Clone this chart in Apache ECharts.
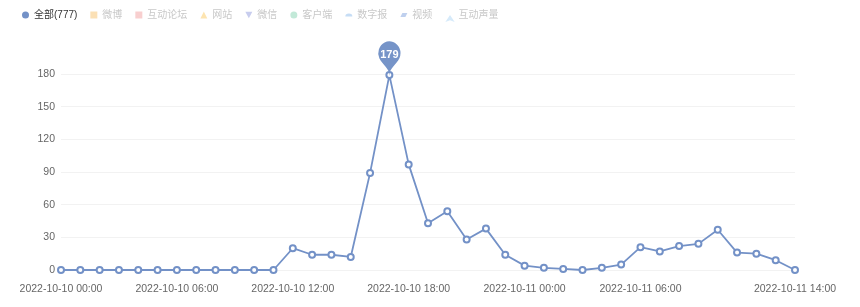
<!DOCTYPE html>
<html><head><meta charset="utf-8">
<script src="https://cdn.jsdelivr.net/npm/echarts@6/dist/echarts.min.js"></script>
<style>html,body{margin:0;padding:0;background:#fff}#c{width:860px;height:307px}</style>
</head><body><div id="c"></div>
<script>
const categories = [
 '2022-10-10 00:00','2022-10-10 01:00','2022-10-10 02:00','2022-10-10 03:00','2022-10-10 04:00','2022-10-10 05:00',
 '2022-10-10 06:00','2022-10-10 07:00','2022-10-10 08:00','2022-10-10 09:00','2022-10-10 10:00','2022-10-10 11:00',
 '2022-10-10 12:00','2022-10-10 13:00','2022-10-10 14:00','2022-10-10 15:00','2022-10-10 16:00','2022-10-10 17:00',
 '2022-10-10 18:00','2022-10-10 19:00','2022-10-10 20:00','2022-10-10 21:00','2022-10-10 22:00','2022-10-10 23:00',
 '2022-10-11 00:00','2022-10-11 01:00','2022-10-11 02:00','2022-10-11 03:00','2022-10-11 04:00','2022-10-11 05:00',
 '2022-10-11 06:00','2022-10-11 07:00','2022-10-11 08:00','2022-10-11 09:00','2022-10-11 10:00','2022-10-11 11:00',
 '2022-10-11 12:00','2022-10-11 13:00','2022-10-11 14:00'];
const allValues = [0,0,0,0,0,0,0,0,0,0,0,0,20,14,14,12,89,179,97,43,54,28,38,14,4,2,1,0,2,5,21,17,22,24,37,16,15,9,0];
const seriesNames = ['全部(777)','微博','互动论坛','网站','微信','客户端','数字报','视频','互动声量'];
const seriesColors = ['#7391c7','#fbe0b5','#f8cfcf','#fde4b0','#c8cdee','#c2e9d8','#c6ddf5','#bfd0ee','#d6eafa'];
const legendIcons = ['circle','rect','rect','triangle','path://M0,0 L10,0 L5,9 Z','circle','path://M0,8 Q0,0 10,0 Q20,0 20,8 Z','path://M4,0 L14,0 L10,8 L0,8 Z','arrow'];
const yTicks = [0,30,60,90,120,150,180];

const chart = echarts.init(document.getElementById('c'));
const series = seriesNames.map((n,i)=>{
  const s = {name:n,type:'line',data:i===0?allValues:[],color:seriesColors[i],
    symbol:'emptyCircle',symbolSize:6,showAllSymbol:true,
    lineStyle:{width:1.8,color:seriesColors[i]},itemStyle:{color:seriesColors[i],borderWidth:1.2}};
  if(i===0){
    s.markPoint={data:[{type:'max'}],symbol:'pin',symbolSize:[37,40],symbolOffset:[0,1],
      itemStyle:{color:'#7694c8'},label:{color:'#fff',fontSize:11,fontWeight:'bold',offset:[0,0]}};
  }
  return s;
});
chart.setOption({
  animation:false,
  textStyle:{fontFamily:'"Liberation Sans","Noto Sans CJK SC",sans-serif'},
  legend:{left:17,top:5,itemWidth:7,itemHeight:7,itemGap:13,
    textStyle:{fontSize:10,color:'#ccc'},
    data:seriesNames.map((n,i)=>({name:n,icon:legendIcons[i],itemStyle:{color:seriesColors[i]},
      textStyle:{color:i===0?'#333':'#c8c8c8'}}))},
  grid:{left:61,right:65,top:74,bottom:37},
  xAxis:{type:'category',data:categories,boundaryGap:false,
    axisLine:{show:true,lineStyle:{color:'#f2f2f2'}},axisTick:{show:false},
    axisLabel:{color:'#666',fontSize:10.5,margin:14,
      interval:(idx)=> (idx%6===0 && idx!==36) || idx===38}},
  yAxis:{type:'value',min:0,max:180,interval:30,
    axisLine:{show:false},axisTick:{show:false},
    axisLabel:{color:'#666',fontSize:10.5,margin:6},
    splitLine:{lineStyle:{color:'#f2f2f2'}}},
  series
});
</script></body></html>
